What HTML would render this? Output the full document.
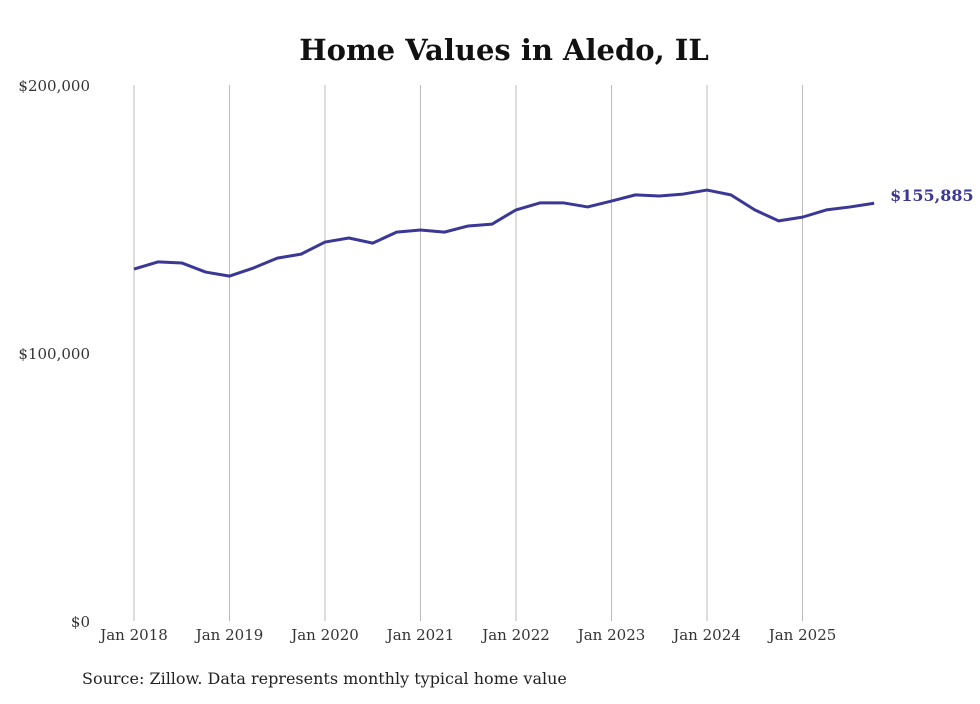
<!DOCTYPE html>
<html><head><meta charset="utf-8"><style>
body{margin:0;background:#fff;}
svg text{font-family:"DejaVu Serif","Liberation Serif",serif;}
</style></head><body>
<svg id="chart" width="980" height="699" xmlns="http://www.w3.org/2000/svg">
<text x="504" y="60" text-anchor="middle" font-size="29" font-weight="bold" fill="#111">Home Values in Aledo, IL</text>
<g id="grid"></g><g id="yaxis"></g><g id="xaxis"></g><g id="series"></g>
<text x="82" y="684" font-size="16" fill="#222">Source: Zillow. Data represents monthly typical home value</text>
</svg>
<script>
const dates=[2018,2018.25,2018.5,2018.75,2019,2019.25,2019.5,2019.75,2020,2020.25,2020.5,2020.75,2021,2021.25,2021.5,2021.75,2022,2022.25,2022.5,2022.75,2023,2023.25,2023.5,2023.75,2024,2024.25,2024.5,2024.75,2025,2025.25,2025.5,2025.75];
const values=[131300,134000,133600,130200,128700,131700,135400,136900,141400,142900,141000,145100,145900,145100,147400,148100,153400,156000,156000,154500,156700,159000,158600,159300,160800,159000,153400,149300,150700,153400,154500,155885];
const yTicks=[0,100000,200000];
const yTickLabels=["$0","$100,000","$200,000"];
const xTicks=[2018,2019,2020,2021,2022,2023,2024,2025];
const xTickLabels=["Jan 2018","Jan 2019","Jan 2020","Jan 2021","Jan 2022","Jan 2023","Jan 2024","Jan 2025"];
const lastLabel="$155,885";

const NS="http://www.w3.org/2000/svg";
const xS=d=>134+(d-2018)*95.5;
const yS=v=>621-v/100000*268;
function mk(tag,attrs,parent){const e=document.createElementNS(NS,tag);for(const k in attrs)e.setAttribute(k,attrs[k]);parent.appendChild(e);return e;}
const grid=document.getElementById('grid'),ya=document.getElementById('yaxis'),xa=document.getElementById('xaxis'),se=document.getElementById('series');
xTicks.forEach((t,i)=>{
  const l=mk('line',{x1:xS(t),x2:xS(t),y1:85,y2:621,stroke:'#bbb','stroke-width':1},grid);
  
  
  const tx=mk('text',{x:xS(t),y:640,'text-anchor':'middle','font-size':15,fill:'#333'},xa);
  tx.textContent=xTickLabels[i];
  
  
});
yTicks.forEach((t,i)=>{
  const tx=mk('text',{x:90,y:yS(t)+6,'text-anchor':'end','font-size':15,fill:'#333'},ya);
  tx.textContent=yTickLabels[i];
  
  
});
const p=mk('polyline',{points:dates.map((d,i)=>xS(d)+','+yS(values[i])).join(' '),fill:'none',stroke:'#3b3796','stroke-width':3,'stroke-linejoin':'round'},se);


const n=dates.length-1;
const lb=mk('text',{x:xS(dates[n])+16,y:yS(values[n])-2,'font-size':16,'font-weight':'bold',fill:'#3b3796'},se);
lb.textContent=lastLabel;


</script>
</body></html>
